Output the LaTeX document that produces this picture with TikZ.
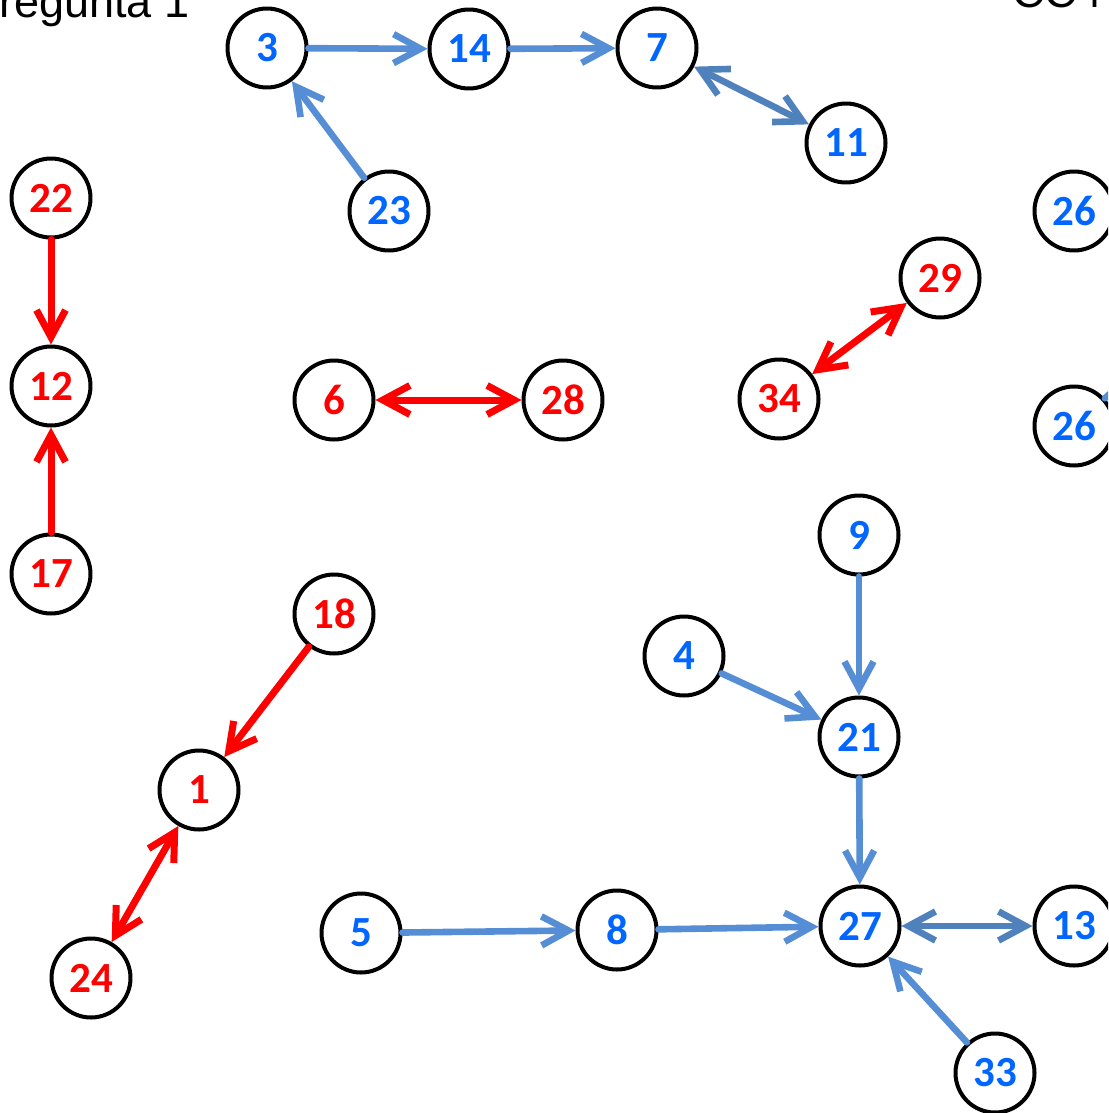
\documentclass[tikz,border=0pt]{standalone}
\usepackage{fontspec}
\usepackage{tikz}
\usetikzlibrary{arrows.meta}
\setmainfont{Liberation Sans}
\newfontfamily\labelfont{Carlito}
\definecolor{edgeblue}{RGB}{85, 142, 213}
\definecolor{darkblue}{RGB}{79, 129, 189}
\definecolor{textblue}{RGB}{0, 102, 255}

\begin{document}
\begin{tikzpicture}[x=0.5pt, y=-0.5pt, line join=round, line cap=round,
    >={Straight Barb[length=13.5pt, width=14.5pt]},
    vertex/.style={circle, draw=black, line width=2pt, minimum size=39.5pt, inner sep=0pt,
        font=\labelfont\bfseries\fontsize{21.5}{25}\selectfont},
    bluevertex/.style={vertex, text=textblue},
    redvertex/.style={vertex, text=red},
    blueedge/.style={draw=edgeblue, line width=3.3pt},
    darkedge/.style={draw=darkblue, line width=3.3pt},
    rededge/.style={draw=red, line width=3.5pt}]
    % Khung hình (cắt như ảnh gốc)
    \useasboundingbox (0,0) rectangle (1108,1113);
    \clip (0,0) rectangle (1108,1113);

    % Tiêu đề
    \node[anchor=base west, inner sep=0pt, font=\fontsize{22.5}{26}\selectfont] (title) at (-31,18) {Pregunta 1};
    \node[anchor=base west, inner sep=0pt, font=\fontsize{22.5}{26}\selectfont] (code) at (1012,8) {CC47};

    % Đỉnh xanh
    \node[bluevertex] (n3) at (267,48) {3};
    \node[bluevertex] (n14) at (469,49) {14};
    \node[bluevertex] (n7) at (657,48) {7};
    \node[bluevertex] (n11) at (846,143) {11};
    \node[bluevertex] (n23) at (389,211) {23};
    \node[bluevertex] (n26a) at (1074,211) {26};
    \node[bluevertex] (n26b) at (1074,426) {26};
    \node[bluevertex] (n9) at (859,535) {9};
    \node[bluevertex] (n4) at (684,656) {4};
    \node[bluevertex] (n21) at (859,737) {21};
    \node[bluevertex] (n5) at (361,933) {5};
    \node[bluevertex] (n8) at (617,930) {8};
    \node[bluevertex] (n27) at (860,926) {27};
    \node[bluevertex] (n13) at (1074,926) {13};
    \node[bluevertex] (n33) at (995,1073) {33};
    \coordinate (out26) at (1170,340);

    % Đỉnh đỏ
    \node[redvertex] (n22) at (51,198) {22};
    \node[redvertex] (n12) at (51,386) {12};
    \node[redvertex] (n17) at (51,574) {17};
    \node[redvertex] (n6) at (334,400) {6};
    \node[redvertex] (n28) at (563,400) {28};
    \node[redvertex] (n29) at (940,278) {29};
    \node[redvertex] (n34) at (779,399) {34};
    \node[redvertex] (n18) at (334,614) {18};
    \node[redvertex] (n1) at (199,790) {1};
    \node[redvertex] (n24) at (91,978) {24};

    % Cạnh xanh
    \draw[blueedge, ->] (n3) -- (n14);
    \draw[blueedge, ->] (n14) -- (n7);
    \draw[darkedge, <->] (n7) -- (n11);
    \draw[blueedge, ->] (n23) -- (n3);
    \draw[blueedge, ->] (n26b) -- (out26);
    \draw[blueedge, ->] (n9) -- (n21);
    \draw[blueedge, ->] (n4) -- (n21);
    \draw[blueedge, ->] (n21) -- (n27);
    \draw[blueedge, ->] (n5) -- (n8);
    \draw[blueedge, ->] (n8) -- (n27);
    \draw[darkedge, <->] (n27) -- (n13);
    \draw[blueedge, ->] (n33) -- (n27);

    % Cạnh đỏ
    \draw[rededge, ->] (n22) -- (n12);
    \draw[rededge, ->] (n17) -- (n12);
    \draw[rededge, <->] (n6) -- (n28);
    \draw[rededge, <->] (n29) -- (n34);
    \draw[rededge, ->] (n18) -- (n1);
    \draw[rededge, <->] (n1) -- (n24);
\end{tikzpicture}
\end{document}
